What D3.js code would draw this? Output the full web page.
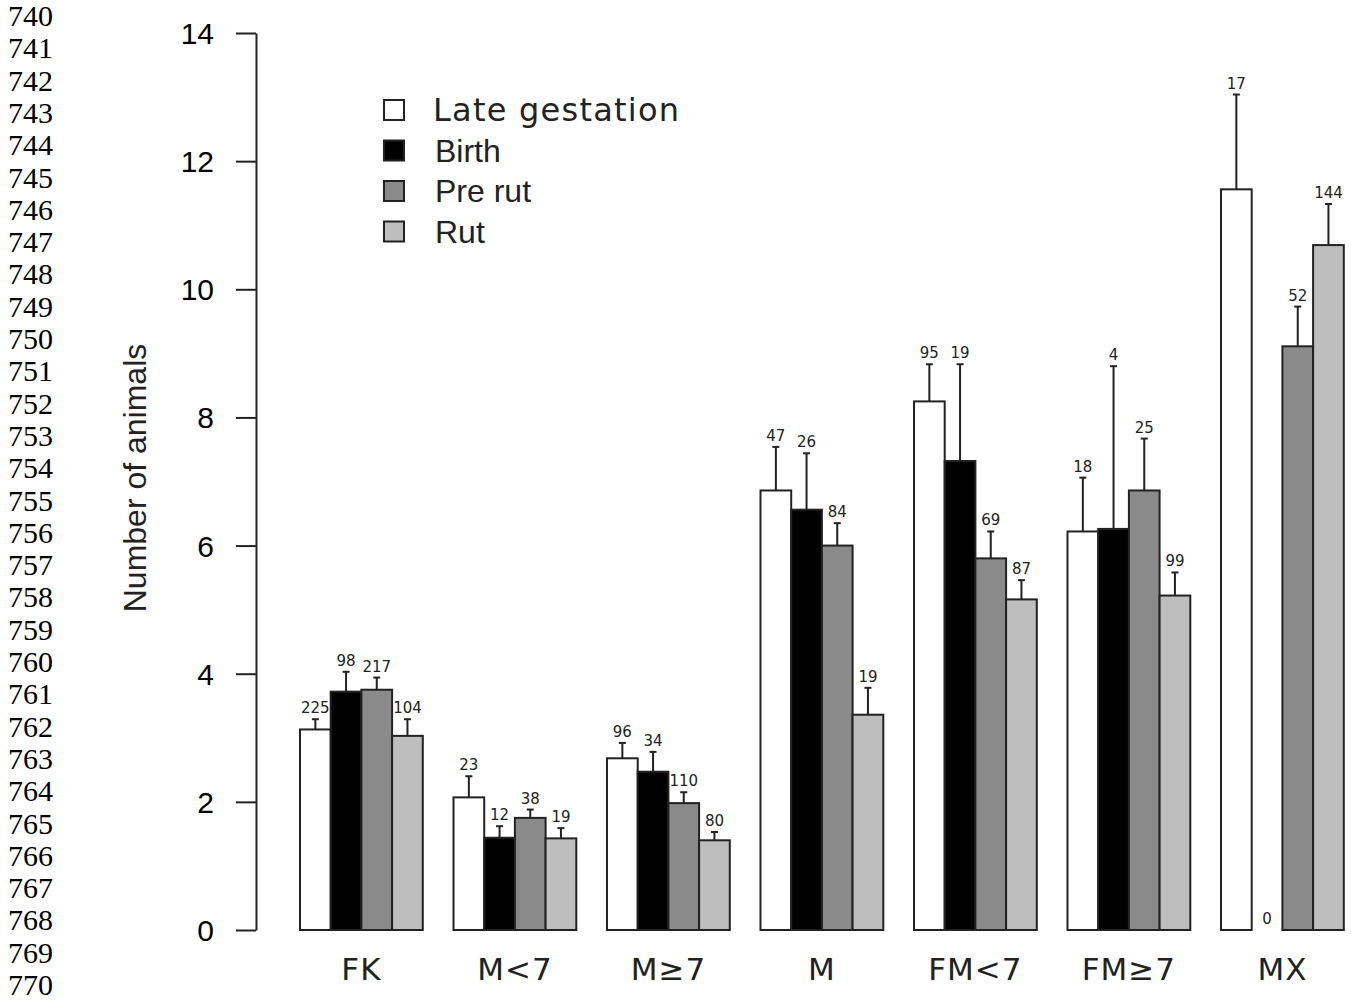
<!DOCTYPE html>
<html><head><meta charset="utf-8">
<script src="https://cdn.jsdelivr.net/npm/d3@7"></script>
<style>body{margin:0;background:#fff}</style>
</head><body>
<script>
const lineNumbers = [740,741,742,743,744,745,746,747,748,749,750,751,752,753,754,755,756,757,758,759,760,761,762,763,764,765,766,767,768,769,770];
const categories = ["FK","M<7","M\u22657","M","FM<7","FM\u22657","MX"];
const seriesNames = ["Late gestation","Birth","Pre rut","Rut"];
const seriesColors = ["#ffffff","#000000","#8a8a8a","#bebebe"];
const yTicks = [0,2,4,6,8,10,12,14];
// mean values per series (one entry per category)
const lateGestation = [3.13, 2.07, 2.68, 6.86, 8.25, 6.22, 11.56];
const birth         = [3.72, 1.44, 2.47, 6.56, 7.32, 6.26, 0];
const preRut        = [3.75, 1.75, 1.98, 6.00, 5.80, 6.86, 9.11];
const rut           = [3.03, 1.43, 1.40, 3.36, 5.16, 5.22, 10.69];
// upper end of error bars
const lateGestationErr = [3.29, 2.40, 2.92, 7.54, 8.83, 7.06, 13.04];
const birthErr         = [4.03, 1.62, 2.78, 7.44, 8.83, 8.80, 0];
const preRutErr        = [3.94, 1.88, 2.15, 6.35, 6.22, 7.67, 9.73];
const rutErr           = [3.29, 1.59, 1.53, 3.78, 5.46, 5.58, 11.33];
// sample sizes shown above bars
const lateGestationN = [225, 23, 96, 47, 95, 18, 17];
const birthN         = [98, 12, 34, 26, 19, 4, 0];
const preRutN        = [217, 38, 110, 84, 69, 25, 52];
const rutN           = [104, 19, 80, 19, 87, 99, 144];

const values = [lateGestation, birth, preRut, rut];
const errs = [lateGestationErr, birthErr, preRutErr, rutErr];
const ns = [lateGestationN, birthN, preRutN, rutN];

const W = 1351, H = 1005;
const svg = d3.select("body").append("svg").attr("width", W).attr("height", H);

// line numbers at left
svg.append("g").selectAll("text").data(lineNumbers).join("text")
  .attr("x", 8).attr("y", (d,i) => 26 + i*32.3)
  .attr("font-family", "Liberation Serif").attr("font-size", 30)
  .attr("fill", "#000").text(d => d);

const y = d3.scaleLinear().domain([0,14]).range([930,33]);
const x = d3.scaleLinear().domain([0,35]).range([269.3,1343.8]);
const bw = x(1) - x(0);

// y axis
const ax = svg.append("g").attr("transform","translate(256,0)")
  .call(d3.axisLeft(y).tickValues(yTicks).tickSize(20).tickPadding(22).tickSizeOuter(0));
ax.select(".domain").attr("stroke","#222").attr("stroke-width",2);
ax.selectAll(".tick line").attr("stroke","#222").attr("stroke-width",2);
ax.selectAll(".tick text").attr("font-family","Liberation Sans").attr("font-size",30).attr("fill","#000").attr("dy","0.35em");

svg.append("text").attr("transform","translate(146,478) rotate(-90)")
  .attr("text-anchor","middle").attr("font-family","Liberation Sans").attr("font-size",32)
  .attr("fill","#222").text("Number of animals");

// bars
const barData = [];
categories.forEach((c,g) => {
  seriesNames.forEach((s,i) => {
    barData.push({g, i, v: values[i][g], e: errs[i][g], n: ns[i][g], u: g*5 + 1 + i});
  });
});

const gb = svg.append("g");
gb.selectAll("rect").data(barData.filter(d => d.v > 0)).join("rect")
  .attr("x", d => x(d.u)).attr("width", bw)
  .attr("y", d => y(d.v)).attr("height", d => y(0) - y(d.v))
  .attr("fill", d => seriesColors[d.i]).attr("stroke","#222").attr("stroke-width",2);

const eb = svg.append("g").attr("stroke","#222").attr("stroke-width",2);
barData.filter(d => d.e > d.v).forEach(d => {
  const cx = x(d.u + 0.5);
  eb.append("line").attr("x1",cx).attr("x2",cx).attr("y1",y(d.v)).attr("y2",y(d.e));
  eb.append("line").attr("x1",cx-3.5).attr("x2",cx+3.5).attr("y1",y(d.e)).attr("y2",y(d.e));
});

svg.append("g").selectAll("text").data(barData).join("text")
  .attr("x", d => x(d.u + 0.5)).attr("y", d => y(d.e) - 6)
  .attr("text-anchor","middle").attr("font-family","DejaVu Sans").attr("font-size",15)
  .attr("fill","#222").text(d => d.n);

// category labels
svg.append("g").selectAll("text").data(categories).join("text")
  .attr("x", (d,g) => x(g*5 + 3)).attr("y", 980)
  .attr("text-anchor","middle").attr("font-family","DejaVu Sans").attr("font-size",31)
  .attr("letter-spacing", 1)
  .attr("fill","#222").text(d => d);

// legend
const lg = svg.append("g");
seriesNames.forEach((s,i) => {
  const yy = 110 + i*40.5;
  lg.append("rect").attr("x",384).attr("y",yy-10).attr("width",20).attr("height",20)
    .attr("fill",seriesColors[i]).attr("stroke","#222").attr("stroke-width",2);
  const t = lg.append("text").attr("x", i===0 ? 433 : 435).attr("y", yy).attr("dy","0.35em")
    .attr("font-family", i===0 ? "DejaVu Sans" : "Liberation Sans")
    .attr("font-size", i===0 ? 32 : 32).attr("fill","#222").text(s);
  if (i === 0) t.attr("textLength", 246).attr("lengthAdjust", "spacing");
});
</script>
</body></html>
